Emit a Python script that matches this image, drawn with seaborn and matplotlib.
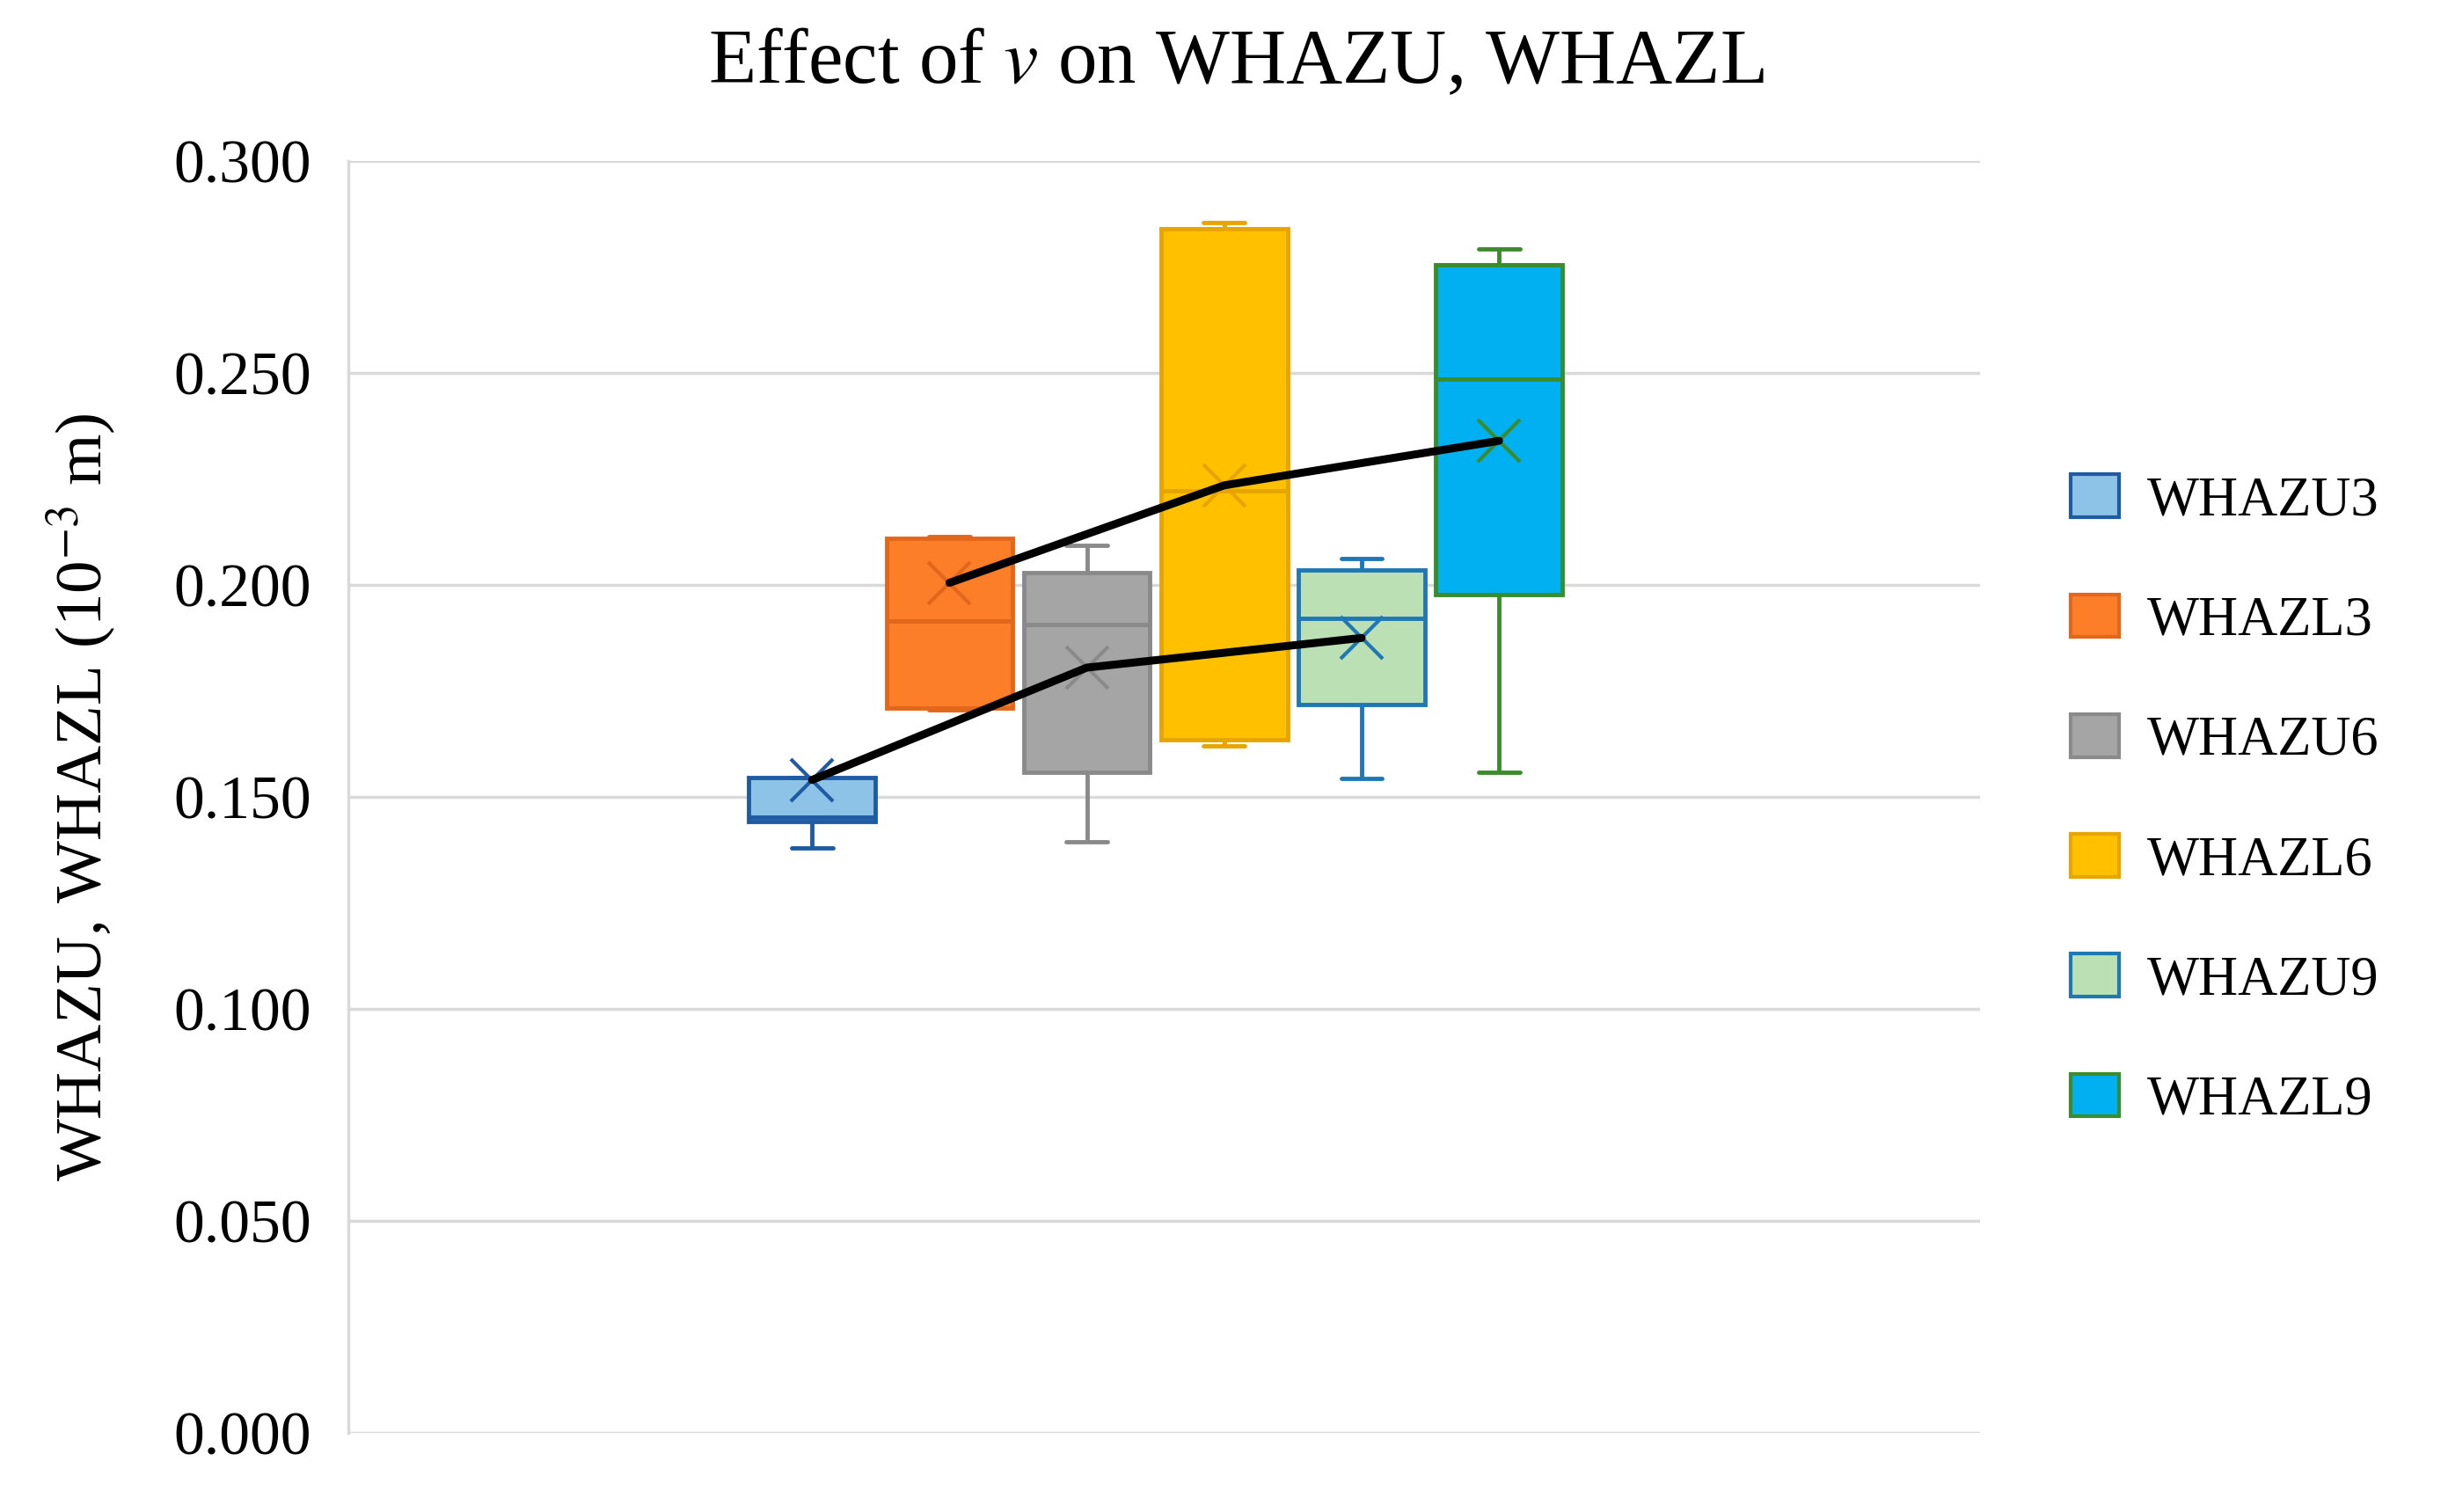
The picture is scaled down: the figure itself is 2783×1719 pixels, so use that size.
import numpy as np
import pandas as pd
import matplotlib
matplotlib.use("Agg")
import matplotlib.pyplot as plt
from matplotlib.patches import Patch
import seaborn as sns

# five-number summaries: min, q1, median, q3, max
series = ["WHAZU3", "WHAZL3", "WHAZU6", "WHAZL6", "WHAZU9", "WHAZL9"]
mins = [0.1380, 0.1705, 0.1395, 0.1620, 0.1543, 0.1558]
q1s = [0.1442, 0.1710, 0.1559, 0.1635, 0.1718, 0.1977]
medians = [0.1452, 0.1915, 0.1906, 0.2223, 0.1921, 0.2485]
q3s = [0.1546, 0.2110, 0.2029, 0.2840, 0.2035, 0.2755]
maxs = [0.1546, 0.2115, 0.2094, 0.2855, 0.2063, 0.2792]
means = [0.1540, 0.2005, 0.1805, 0.2235, 0.1875, 0.2340]

upper_line = ["WHAZL3", "WHAZL6", "WHAZL9"]
lower_line = ["WHAZU3", "WHAZU6", "WHAZU9"]

fill_colors = ["#8DC3E6", "#FD7E28", "#A5A5A5", "#FFC000", "#BBE0B4", "#00B0F0"]
edge_colors = ["#1F5BA3", "#E0671C", "#8A8A8A", "#E6A500", "#1F78B4", "#3A8C2C"]

yticks = [0.0, 0.05, 0.10, 0.15, 0.20, 0.25, 0.30]

# long table, five values per series gives exactly those quartiles
rows = []
for s, a, b, c, d, e in zip(series, mins, q1s, medians, q3s, maxs):
    for v in (a, b, c, d, e):
        rows.append({"series": s, "value": v})
df = pd.DataFrame(rows)

sns.set_style("white")
plt.rcParams["font.family"] = ["Liberation Serif", "DejaVu Serif"]
plt.rcParams["mathtext.fontset"] = "stix"
plt.rcParams["text.color"] = "black"
plt.rcParams["axes.labelcolor"] = "black"
plt.rcParams["ytick.color"] = "black"

fig = plt.figure(figsize=(27.83, 17.19), dpi=100)
ax = fig.add_axes([0.1423, 0.0524, 0.8088 - 0.1423, 0.8935 - 0.0524])

for s, fc, ec in zip(series, fill_colors, edge_colors):
    sns.boxplot(
        data=df[df["series"] == s], x="series", y="value", order=series,
        color=fc, linecolor=ec, linewidth=3.5, width=0.92, whis=np.inf,
        saturation=1, capwidths=0.3, ax=ax,
    )

# mean markers
pos = [series.index(s) for s in series]
for p, m, ec in zip(pos, means, edge_colors):
    ax.plot(p, m, marker="x", markersize=34, markeredgewidth=3, color=ec, zorder=4)

# lines through the means
for group in (upper_line, lower_line):
    xs = [series.index(s) for s in group]
    ys = [means[series.index(s)] for s in group]
    ax.plot(xs, ys, color="black", lw=6.5, zorder=5)

ax.set_xlim(-3.375, 8.5)
ax.set_ylim(0, 0.3)
ax.set_yticks(yticks)
ax.set_yticklabels([f"{t:.3f}" for t in yticks], fontsize=50)
ax.tick_params(axis="y", length=0, pad=30)
ax.set_xticks([])
ax.set_xlabel("")
ax.grid(axis="y", color="#D9D9D9", lw=2.5)
ax.set_axisbelow(True)
for side in ("top", "right", "bottom"):
    ax.spines[side].set_visible(False)
ax.spines["left"].set_color("#D9D9D9")
ax.spines["left"].set_linewidth(2.5)

ax.set_ylabel("WHAZU, WHAZL (10$^{-3}$ m)", fontsize=54)
ax.yaxis.set_label_coords(-0.141, 0.5)

fig.text(0.505, 0.945, "Effect of $v$ on WHAZU, WHAZL", fontsize=64,
         ha="center", va="baseline")

handles = [Patch(facecolor=fc, edgecolor=ec, linewidth=3) for fc, ec in zip(fill_colors, edge_colors)]
fig.legend(handles, series, loc="center left", bbox_to_anchor=(0.846, 0.4706),
           frameon=False, fontsize=45, handlelength=0.88, handleheight=0.82,
           handletextpad=0.5, labelspacing=1.22, borderpad=0, borderaxespad=0)

fig.savefig("out.png", dpi=100)
